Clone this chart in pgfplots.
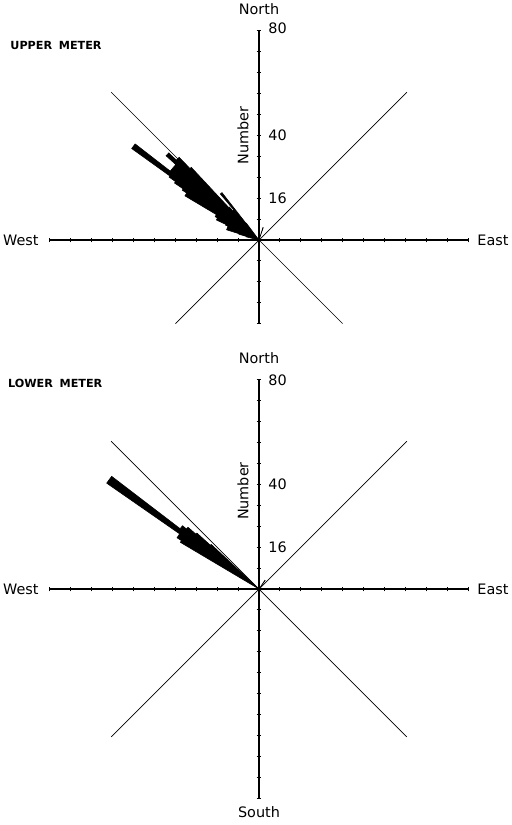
\documentclass[border=0pt]{standalone}
\usepackage{pgfplots}
\pgfplotsset{compat=1.18}
\usepackage{fontspec}
\setmainfont{DejaVu Sans}
\newcommand\lab{\fontsize{7.2pt}{8pt}\selectfont}
\newcommand\ttl{\fontsize{5.6pt}{6pt}\selectfont\bfseries}
\pgfplotsset{
  rose/.style={
    anchor=origin, x=1.30625pt, y=1.30625pt,
    xmin=-80, xmax=80, ymax=80,
    axis lines=center, axis line style={-, line width=0.7pt, black},
    xtick={-80,-72,...,80}, xticklabel=\empty, yticklabel=\empty,
    tick align=center, major tick length=2.4pt,
    tick style={line width=0.5pt, black},
    clip=false,
  },
  diag/.style={black, line width=0.35pt, no marks},
  petal/.style={fill=black, draw=black, line width=0.3pt, no marks, data cs=polar},
}
\begin{document}
\begin{tikzpicture}[every node/.append style={inner sep=0pt}]
\path[use as bounding box] (0,0) rectangle (255.5pt,-412.5pt);
% ---------------- UPPER METER ----------------
\begin{axis}[rose, at={(129.5pt,-120pt)}, ymin=-32, ytick={-32,-24,...,80}]
\addplot[diag] coordinates {(-56.57,56.57) (0,0) (32,-32)};
\addplot[diag] coordinates {(56.57,56.57) (0,0) (-32,-32)};
% rose: (direction angle in degrees, number)
\addplot[petal] coordinates {
(0,0)
(127,8) (128,8)
(128,23) (130,23)
(130,13) (131,13)
(131,15) (132,15)
(132,17) (133,17)
(133,38) (134,38)
(134,44) (136,44)
(136,48) (137.8,48)
(137.8,43) (142.2,43)
(142.2,60) (144.3,60)
(144.3,42) (145,42)
(145,39) (146,39)
(146,35) (147,35)
(147,33) (149.2,33)
(149.2,19) (152,19)
(152,18) (154.8,18)
(154.8,14) (156,14)
(156,13) (162.5,13)
(162.5,8) (164,8)
(164,5) (166,5)
(166,0) (0,0)
} -- cycle;
\addplot[petal] coordinates {(0,0) (71,5) (72.5,5) (0,0)} -- cycle;
\node[anchor=base, font=\lab] at (axis cs:0,80) [yshift=8pt] {North};
\node[anchor=west, font=\lab] at (axis cs:0,80) [xshift=4.5pt, yshift=1.5pt] {80};
\node[anchor=west, font=\lab] at (axis cs:0,40) [xshift=4.5pt] {40};
\node[anchor=west, font=\lab] at (axis cs:0,16) [xshift=4.5pt] {16};
\node[font=\lab, rotate=90] at (axis cs:0,40) [yshift=8pt] {Number};
\node[anchor=east, font=\lab] at (axis cs:-80,0) [xshift=-5.5pt] {West};
\node[anchor=west, font=\lab] at (axis cs:80,0) [xshift=4.5pt] {East};
\node[anchor=west, font=\ttl] at (axis cs:-95.3,74.6) {UPPER\hspace{0.6em}METER};
\end{axis}
% ---------------- LOWER METER ----------------
\begin{axis}[rose, at={(129.5pt,-294.5pt)}, ymin=-80, ytick={-80,-72,...,80}]
\addplot[diag] coordinates {(-56.57,56.57) (0,0) (56.57,-56.57)};
\addplot[diag] coordinates {(56.57,56.57) (0,0) (-56.57,-56.57)};
\addplot[petal] coordinates {
(0,0)
(137,25) (138,25)
(138,32) (139,32)
(139,36) (140.4,36)
(140.4,38) (142.6,38)
(142.6,71) (145.2,71)
(145.2,37) (148,37)
(148,35) (149.3,35)
(149.3,0) (0,0)
} -- cycle;
\addplot[petal] coordinates {(0,0) (179,5) (181,5) (0,0)} -- cycle;
\addplot[petal] coordinates {(0,0) (54,4) (56,4) (0,0)} -- cycle;
\node[anchor=base, font=\lab] at (axis cs:0,80) [yshift=8pt] {North};
\node[anchor=west, font=\lab] at (axis cs:0,80) [xshift=4.5pt] {80};
\node[anchor=west, font=\lab] at (axis cs:0,40) [xshift=4.5pt] {40};
\node[anchor=west, font=\lab] at (axis cs:0,16) [xshift=4.5pt] {16};
\node[font=\lab, rotate=90] at (axis cs:0,37.5) [yshift=8pt] {Number};
\node[anchor=east, font=\lab] at (axis cs:-80,0) [xshift=-5.5pt] {West};
\node[anchor=west, font=\lab] at (axis cs:80,0) [xshift=4.5pt] {East};
\node[anchor=north, font=\lab] at (axis cs:0,-80) [yshift=-4pt] {South};
\node[anchor=west, font=\ttl] at (axis cs:-96.2,78.5) {LOWER\hspace{0.6em}METER};
\end{axis}
\end{tikzpicture}
\end{document}
